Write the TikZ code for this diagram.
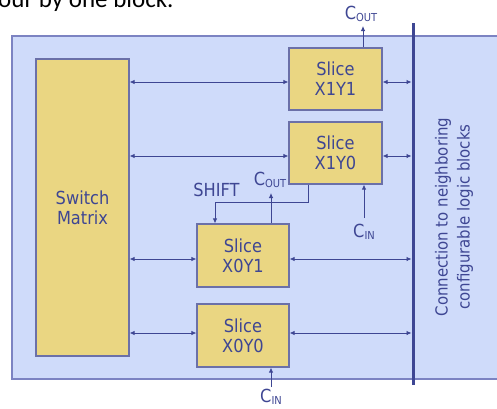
\documentclass[tikz,border=0pt]{standalone}
\usepackage{fontspec}
\setmainfont{DejaVu Sans Condensed}
\newfontfamily\capfont{Carlito}
\usetikzlibrary{arrows.meta}
\definecolor{bg}{HTML}{CFDBFA}
\definecolor{fillY}{HTML}{EAD682}
\definecolor{ink}{HTML}{3E4693}
\definecolor{edge}{HTML}{6B70A8}
\definecolor{frame}{HTML}{7C83C2}
\newcommand\sg[2]{#1\raisebox{-2pt}{\fontsize{11}{11}\selectfont #2}}
\begin{document}
\begin{tikzpicture}[x=1pt,y=-1pt,
  blk/.style={draw=edge, line width=1.2pt, fill=fillY, inner sep=0pt, text=ink, align=center, font=\fontsize{18}{20}\selectfont},
  wire/.style={draw=ink, line width=0.8pt},
  dbl/.style={wire, {Latex[length=5pt,width=4.5pt]}-{Latex[length=5pt,width=4.5pt]}},
  one/.style={wire, -{Latex[length=5pt,width=4.5pt]}},
  lbl/.style={text=ink, font=\fontsize{18}{20}\selectfont, inner sep=0pt},
]
\useasboundingbox (0,0) rectangle (497,408);
\clip (0,0) rectangle (497,408);
\node[anchor=base west, inner sep=0pt, font=\capfont\fontsize{25}{30}\selectfont] (cap) at (-2,7) {our by one block.};
\path[fill=bg, draw=frame, line width=1.5pt] (12,36) rectangle (520,379);
% blocks
\node[blk, minimum width=93pt, minimum height=297pt] (sm) at (82.5,207.5) {Switch\\Matrix};
\node[blk, minimum width=93pt, minimum height=62pt] (s11) at (335.5,79) {Slice\\X1Y1};
\node[blk, minimum width=93pt, minimum height=62pt] (s10) at (335.5,153) {Slice\\X1Y0};
\node[blk, minimum width=92pt, minimum height=63pt] (s01) at (243,255.5) {Slice\\X0Y1};
\node[blk, minimum width=92pt, minimum height=63pt] (s00) at (243,335.5) {Slice\\X0Y0};
% bus
\coordinate (busT) at (413,23);
\coordinate (busB) at (413,385);
\draw[ink, line width=3pt] (busT) -- (busB);
% rows
\coordinate (r1) at (0,82);
\coordinate (r2) at (0,156);
\coordinate (r3) at (0,259);
\coordinate (r4) at (0,333);
\draw[dbl] (sm.east |- r1) -- (s11.west |- r1);
\draw[dbl, shorten >=1.5pt] (s11.east |- r1) -- (busT |- r1);
\draw[dbl] (sm.east |- r2) -- (s10.west |- r2);
\draw[dbl, shorten >=1.5pt] (s10.east |- r2) -- (busT |- r2);
\draw[dbl] (sm.east |- r3) -- (s01.west |- r3);
\draw[dbl, shorten >=1.5pt] (s01.east |- r3) -- (busT |- r3);
\draw[dbl] (sm.east |- r4) -- (s00.west |- r4);
\draw[dbl, shorten >=1.5pt] (s00.east |- r4) -- (busT |- r4);
% shift
\coordinate (shA) at (308,202);
\coordinate (shB) at (215,202);
\draw[one] (s10.south -| shA) -- (shA) -- (shB) -- (s01.north -| shB);
\node[lbl, anchor=base] (shl) at (216.5,196) {SHIFT};
% carry
\coordinate (co1) at (363,26);
\draw[one] (s11.north -| co1) -- (co1);
\node[lbl, anchor=base] (co1l) at (361,19) {\sg{C}{OUT}};
\coordinate (co2) at (271,193);
\draw[one] (s01.north -| co2) -- (co2);
\node[lbl, anchor=base] (co2l) at (270,185) {\sg{C}{OUT}};
\coordinate (ci1) at (364,218);
\draw[one] (ci1) -- (s10.south -| ci1);
\node[lbl, anchor=base] (ci1l) at (364,237) {\sg{C}{IN}};
\coordinate (ci0) at (271,387);
\draw[one] (ci0) -- (s00.south -| ci0);
\node[lbl, anchor=base] (ci0l) at (271,402) {\sg{C}{IN}};
% side text
\node[lbl, rotate=90, align=center, font=\fontsize{16.6}{22}\selectfont] (conn) at (454,217) {Connection to neighboring\\configurable logic blocks};
\end{tikzpicture}
\end{document}
